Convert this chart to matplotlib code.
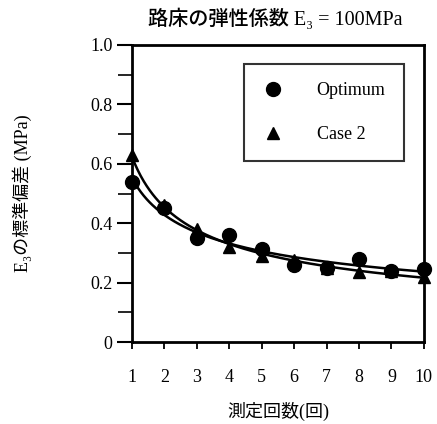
import numpy as np
import matplotlib
matplotlib.use("Agg")
import matplotlib.pyplot as plt
from matplotlib.ticker import MultipleLocator

plt.rcParams['font.family'] = ['Liberation Serif', 'Noto Sans CJK JP', 'DejaVu Sans']

counts = [1, 2, 3, 4, 5, 6, 7, 8, 9, 10]
optimum = [0.54, 0.45, 0.35, 0.36, 0.315, 0.26, 0.25, 0.28, 0.24, 0.245]
case2 = [0.63, 0.46, 0.38, 0.32, 0.29, 0.275, 0.25, 0.235, 0.24, 0.22]
x_ticks = [1, 2, 3, 4, 5, 6, 7, 8, 9, 10]
y_ticks = [0, 0.2, 0.4, 0.6, 0.8, 1.0]
y_tick_labels = ["0", "0.2", "0.4", "0.6", "0.8", "1.0"]

fig = plt.figure(figsize=(4.37, 4.24), dpi=100)
ax = fig.add_axes([0.302, 0.193, 0.668, 0.701])

# power-law fit lines through each series
xs = np.linspace(1, 10, 200)
for ys in (optimum, case2):
    b, a = np.polyfit(np.log(counts), np.log(ys), 1)
    ax.plot(xs, np.exp(a) * xs ** b, color="black", lw=1.8, zorder=2)

ax.plot(counts, optimum, "o", color="black", ms=10, label="Optimum", zorder=3, clip_on=False)
ax.plot(counts, case2, "^", color="black", ms=9, label="Case 2", zorder=3, clip_on=False)

ax.set_xlim(1, 10)
ax.set_ylim(0, 1.0)
ax.set_xticks(x_ticks)
ax.set_yticks(y_ticks)
ax.set_yticklabels(y_tick_labels)
ax.yaxis.set_minor_locator(MultipleLocator(0.1))
ax.tick_params(axis="y", which="major", direction="out", length=11, width=1.5, labelsize=13, pad=3)
ax.tick_params(axis="y", which="minor", direction="out", length=10, width=1.2)
ax.tick_params(axis="x", which="major", direction="out", length=5, width=1.3, labelsize=13, pad=14)
for sp in ax.spines.values():
    sp.set_linewidth(2)

leg = ax.legend(loc="upper left", bbox_to_anchor=(0.385, 0.935), frameon=True, fancybox=False,
                edgecolor="black", fontsize=13, handletextpad=1.8, labelspacing=1.5,
                borderpad=1.0, handlelength=1.2, borderaxespad=0)
leg.get_frame().set_linewidth(1.5)

ax.set_title("路床の弾性係数 E₃ = 100MPa", fontsize=14.5, pad=14, x=0.49, fontweight="medium")
ax.set_xlabel("測定回数(回)", fontsize=13, labelpad=12)
ax.set_ylabel("E₃の標準偏差 (MPa)", fontsize=13, labelpad=42)

fig.savefig("out.png", dpi=100)
